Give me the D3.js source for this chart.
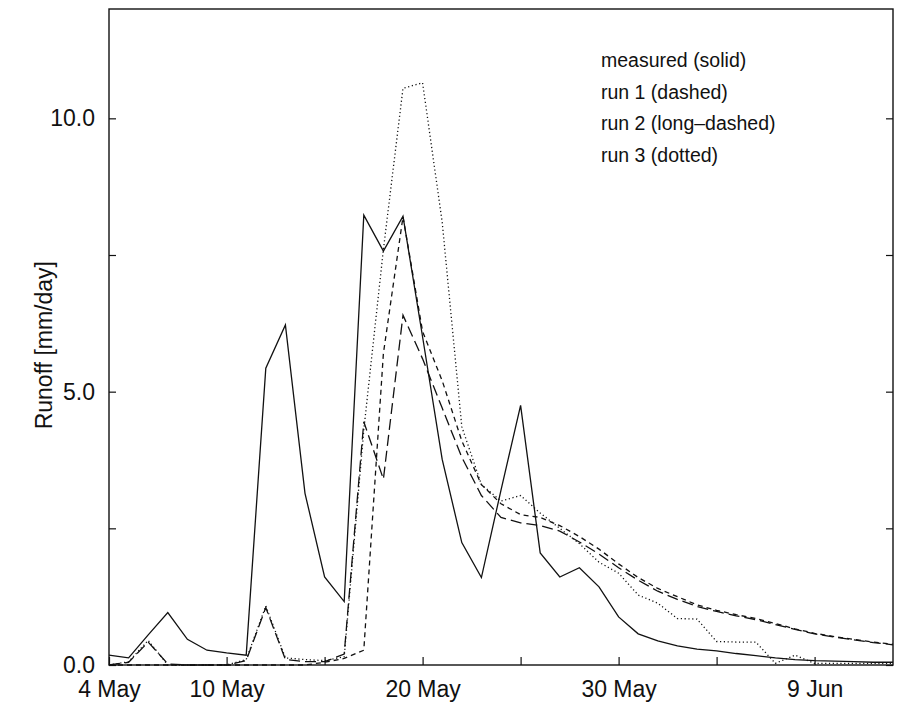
<!DOCTYPE html>
<html>
<head>
<meta charset="utf-8">
<script src="https://cdn.jsdelivr.net/npm/d3@7"></script>
<style>
  body { margin: 0; background: #fff; }
  text { font-family: "Liberation Sans", Arial, Helvetica, sans-serif; fill: #111; }
  .axis path { display: none; }
  .axis line { stroke: #111; stroke-width: 1.2; }
  .frame { fill: none; stroke: #111; stroke-width: 1.4; }
  .run { fill: none; stroke: #111; stroke-width: 1.3; }
</style>
</head>
<body>
<svg id="chart"></svg>
<script>
// daily values, first day 4 May, last day 13 Jun
const startDay = "2000-05-04";
const endDay = "2000-06-13";

const measured = [0.18, 0.13, 0.55, 0.96, 0.47, 0.27, 0.22, 0.18, 5.43, 6.22,
  3.14, 1.61, 1.16, 8.23, 7.57, 8.21, 6.0, 3.76, 2.24, 1.60,
  3.2, 4.75, 2.05, 1.61, 1.78, 1.43, 0.88, 0.57, 0.44, 0.35,
  0.29, 0.26, 0.21, 0.17, 0.13, 0.10, 0.08, 0.07, 0.06, 0.05, 0.05];

const run1 = [0, 0, 0, 0, 0, 0, 0, 0, 0, 0,
  0, 0.05, 0.12, 0.27, 5.7, 8.2, 6.1, 5.2, 4.1, 3.3,
  2.95, 2.75, 2.7, 2.55, 2.35, 2.12, 1.85, 1.6, 1.4, 1.25,
  1.1, 1.0, 0.92, 0.85, 0.76, 0.66, 0.58, 0.52, 0.47, 0.42, 0.38];

const run2 = [0, 0.05, 0.42, 0.02, 0, 0, 0, 0.08, 1.05, 0.1,
  0.06, 0.06, 0.2, 4.45, 3.4, 6.4, 5.6, 4.7, 3.8, 3.1,
  2.7, 2.6, 2.55, 2.45, 2.25, 2.03, 1.78, 1.55, 1.35, 1.2,
  1.07, 0.98, 0.9, 0.83, 0.74, 0.65, 0.57, 0.51, 0.46, 0.41, 0.37];

const run3 = [0, 0.06, 0.45, 0, 0, 0, 0, 0.1, 1.08, 0.13,
  0.1, 0.08, 0.15, 4.3, 7.6, 10.55, 10.65, 8.1, 4.36, 3.3,
  3.0, 3.1, 2.78, 2.5, 2.22, 1.88, 1.68, 1.28, 1.13, 0.85,
  0.84, 0.43, 0.42, 0.42, 0.03, 0.18, 0.03, 0.03, 0.03, 0.03, 0.03];

const seriesNames = ["measured (solid)", "run 1 (dashed)", "run 2 (long\u2013dashed)", "run 3 (dotted)"];
const seriesDash = [null, "5,4", "11,5", "1.2,2.6"];

const xTickDays = ["2000-05-04", "2000-05-10", "2000-05-15", "2000-05-20", "2000-05-25", "2000-05-30", "2000-06-04", "2000-06-09"];
const xLabelDays = ["2000-05-04", "2000-05-10", "2000-05-20", "2000-05-30", "2000-06-09"];
const yTicks = [0, 2.5, 5, 7.5, 10];
const yLabels = [0, 5, 10];

class RunoffChart {
  constructor(_config) {
    this.config = {
      parentElement: _config.parentElement,
      containerWidth: _config.containerWidth || 901,
      containerHeight: _config.containerHeight || 703,
      margin: _config.margin || {top: 9, right: 8, bottom: 38, left: 109}
    }
    this.initVis();
  }

  initVis() {
    let vis = this;
    const parse = d3.utcParse("%Y-%m-%d");

    vis.days = d3.utcDays(parse(startDay), d3.utcDay.offset(parse(endDay), 1));
    vis.series = [measured, run1, run2, run3];

    vis.width = vis.config.containerWidth - vis.config.margin.left - vis.config.margin.right;
    vis.height = vis.config.containerHeight - vis.config.margin.top - vis.config.margin.bottom;

    vis.xScale = d3.scaleUtc()
      .domain([parse(startDay), parse(endDay)])
      .range([0, vis.width]);

    vis.yScale = d3.scaleLinear()
      .domain([0, 12])
      .range([vis.height, 0]);

    const labelled = new Set(xLabelDays);
    const fmtDay = d3.utcFormat("%Y-%m-%d");
    const fmtLabel = d3.utcFormat("%-d %b");

    vis.xAxis = d3.axisBottom(vis.xScale)
      .tickValues(xTickDays.map(parse))
      .tickSizeInner(-8)
      .tickSizeOuter(0)
      .tickPadding(16)
      .tickFormat(d => labelled.has(fmtDay(d)) ? fmtLabel(d) : "");

    vis.yAxis = d3.axisLeft(vis.yScale)
      .tickValues(yTicks)
      .tickSizeInner(-7)
      .tickSizeOuter(0)
      .tickPadding(14)
      .tickFormat(d => yLabels.includes(d) ? d3.format(".1f")(d) : "");

    vis.yAxisRight = d3.axisRight(vis.yScale)
      .tickValues(yTicks)
      .tickSizeInner(-7)
      .tickSizeOuter(0)
      .tickFormat("");

    vis.svg = d3.select(vis.config.parentElement)
      .attr('width', vis.config.containerWidth)
      .attr('height', vis.config.containerHeight);

    vis.chart = vis.svg.append('g')
      .attr('transform', `translate(${vis.config.margin.left},${vis.config.margin.top})`);

    vis.xAxisG = vis.chart.append('g')
      .attr('class', 'axis x-axis')
      .attr('transform', `translate(0,${vis.height})`);
    vis.yAxisG = vis.chart.append('g')
      .attr('class', 'axis y-axis');
    vis.yAxisRightG = vis.chart.append('g')
      .attr('class', 'axis y-axis-right')
      .attr('transform', `translate(${vis.width},0)`);

    vis.chart.append('rect')
      .attr('class', 'frame')
      .attr('width', vis.width)
      .attr('height', vis.height);

    // axis title
    vis.svg.append("text")
      .attr("text-anchor", "middle")
      .attr("transform", `translate(52,${vis.config.margin.top + vis.yScale(5.85)}) rotate(-90)`)
      .attr("font-size", "23px")
      .text("Runoff [mm/day]");

    vis.marks = vis.chart.append('g');
    vis.renderVis();
  }

  renderVis() {
    let vis = this;

    vis.line = d3.line()
      .x((d, i) => vis.xScale(vis.days[i]))
      .y(d => vis.yScale(d));

    vis.marks.selectAll('path')
      .data(vis.series)
      .join('path')
        .attr('class', 'run')
        .attr('stroke-dasharray', (d, i) => seriesDash[i])
        .attr('d', d => vis.line(d));

    vis.xAxisG.call(vis.xAxis);
    vis.yAxisG.call(vis.yAxis);
    vis.yAxisRightG.call(vis.yAxisRight);

    vis.xAxisG.selectAll('text').attr('font-size', '23px').attr('fill', '#111');
    vis.yAxisG.selectAll('text').attr('font-size', '23px').attr('fill', '#111');

    // legend: text only
    vis.chart.selectAll('.legend')
      .data(seriesNames)
      .join('text')
        .attr('class', 'legend')
        .attr('x', 492)
        .attr('y', (d, i) => 58 + i * 31.5)
        .attr('font-size', '19.5px')
        .text(d => d);
  }
}

new RunoffChart({parentElement: '#chart'});
</script>
</body>
</html>
